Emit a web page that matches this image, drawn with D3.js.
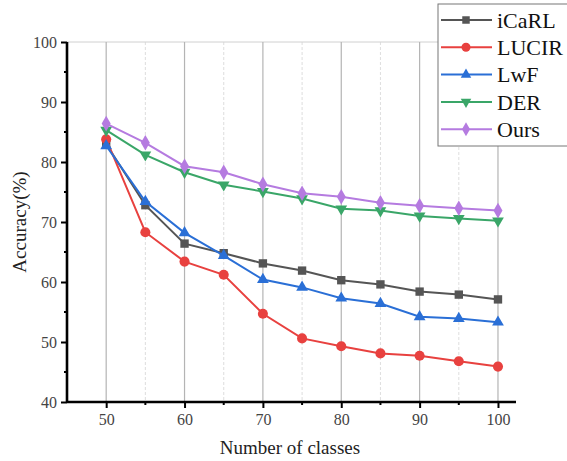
<!DOCTYPE html>
<html>
<head>
<meta charset="utf-8">
<script src="https://cdn.jsdelivr.net/npm/d3@7"></script>
<style>
  body { margin: 0; background: #fff; }
  svg text { font-family: "Liberation Serif", "DejaVu Serif", serif !important; }
</style>
</head>
<body>
<div id="chart"></div>
<script>
// data
const classes = [50, 55, 60, 65, 70, 75, 80, 85, 90, 95, 100];
const icarl = [83.0, 72.8, 66.4, 64.8, 63.1, 61.9, 60.3, 59.6, 58.4, 57.9, 57.1];
const lucir = [83.8, 68.3, 63.4, 61.2, 54.7, 50.6, 49.3, 48.1, 47.7, 46.8, 45.9];
const lwf   = [82.7, 73.4, 68.2, 64.4, 60.4, 59.1, 57.3, 56.4, 54.2, 53.9, 53.3];
const der   = [85.3, 81.2, 78.3, 76.2, 75.1, 73.9, 72.2, 71.9, 71.0, 70.6, 70.2];
const ours  = [86.4, 83.2, 79.3, 78.3, 76.3, 74.8, 74.2, 73.2, 72.7, 72.3, 71.9];
const yTicks = [40, 50, 60, 70, 80, 90, 100];
const xTicks = [50, 60, 70, 80, 90, 100];

const series = [
  {name: 'iCaRL', values: icarl, color: '#555555', symbol: d3.symbolSquare, size: 70, rot: 0},
  {name: 'LUCIR', values: lucir, color: '#e8413f', symbol: d3.symbolCircle, size: 80, rot: 0},
  {name: 'LwF',   values: lwf,   color: '#2a6fd6', symbol: d3.symbolTriangle, size: 60, rot: 0},
  {name: 'DER',   values: der,   color: '#3aa668', symbol: d3.symbolTriangle, size: 60, rot: 180},
  {name: 'Ours',  values: ours,  color: '#b57be0', symbol: d3.symbolDiamond, size: 70, rot: 0}
];

const width = 567, height = 461;
const plotL = 67, plotT = 42, plotR = 516, plotB = 402;

const x = d3.scaleLinear().domain([45, 102.3]).range([plotL, plotR]);
const y = d3.scaleLinear().domain([40, 100]).range([plotB, plotT]);

const svg = d3.select('#chart').append('svg')
    .attr('width', width)
    .attr('height', height);

// top frame line
svg.append('line')
    .attr('x1', plotL).attr('x2', plotR)
    .attr('y1', plotT).attr('y2', plotT)
    .attr('stroke', '#d0d0d0').attr('stroke-width', 1);

// vertical grid: solid at major, dashed at minor
const minorX = d3.range(55, 100, 10);
svg.append('g').selectAll('line')
  .data(xTicks)
  .join('line')
    .attr('x1', d => x(d)).attr('x2', d => x(d))
    .attr('y1', plotT).attr('y2', plotB)
    .attr('stroke', '#b4b4b4').attr('stroke-width', 1.2);

svg.append('g').selectAll('line')
  .data(minorX)
  .join('line')
    .attr('x1', d => x(d)).attr('x2', d => x(d))
    .attr('y1', plotT).attr('y2', plotB)
    .attr('stroke', '#d6d6d6').attr('stroke-width', 0.8)
    .attr('stroke-dasharray', '3,2');

// lines + markers
const line = d3.line()
    .x((d, i) => x(classes[i]))
    .y(d => y(d));

series.forEach(s => {
  svg.append('path')
      .datum(s.values)
      .attr('fill', 'none')
      .attr('stroke', s.color)
      .attr('stroke-width', 2)
      .attr('d', line);
  svg.append('g').selectAll('path')
    .data(s.values)
    .join('path')
      .attr('transform', (d, i) => `translate(${x(classes[i])},${y(d)}) rotate(${s.rot})`)
      .attr('d', d3.symbol().type(s.symbol).size(s.size))
      .attr('fill', s.color);
});

// axes
const xAxis = svg.append('g')
    .attr('transform', `translate(0,${plotB})`)
    .call(d3.axisBottom(x).tickValues(xTicks).tickSize(6).tickPadding(6));
xAxis.append('g').selectAll('line')
  .data(minorX)
  .join('line')
    .attr('x1', d => x(d)).attr('x2', d => x(d))
    .attr('y1', 0).attr('y2', 3)
    .attr('stroke', '#000').attr('stroke-width', 2);

const yAxis = svg.append('g')
    .attr('transform', `translate(${plotL},0)`)
    .call(d3.axisLeft(y).tickValues(yTicks).tickSize(6).tickPadding(4));
yAxis.append('g').selectAll('line')
  .data(d3.range(45, 100, 10))
  .join('line')
    .attr('y1', d => y(d)).attr('y2', d => y(d))
    .attr('x1', 0).attr('x2', -3)
    .attr('stroke', '#000').attr('stroke-width', 2);

[xAxis, yAxis].forEach(a => {
  a.attr('font-family', null);
  a.select('.domain').attr('stroke', '#000').attr('stroke-width', 2.6);
  a.selectAll('.tick line').attr('stroke', '#000').attr('stroke-width', 2);
  a.selectAll('.tick text')
    .attr('font-size', 16)
    .attr('fill', '#444');
});
xAxis.select('.domain').attr('d', `M${plotL},0H${plotR}`);
yAxis.select('.domain').attr('d', `M0,${plotB}V${plotT}`);

// axis titles
svg.append('text')
    .attr('x', 290).attr('y', 454)
    .attr('text-anchor', 'middle')
    .attr('font-size', 19)
    .attr('fill', '#222')
    .text('Number of classes');

svg.append('text')
    .attr('transform', 'translate(26,222) rotate(-90)')
    .attr('text-anchor', 'middle')
    .attr('font-size', 19)
    .attr('fill', '#222')
    .text('Accuracy(%)');

// legend
const legend = svg.append('g');
legend.append('rect')
    .attr('x', 438).attr('y', 4)
    .attr('width', 140).attr('height', 142)
    .attr('fill', '#fff')
    .attr('stroke', '#777').attr('stroke-width', 1);

series.forEach((s, i) => {
  const ly = 20 + i * 27.3;
  legend.append('line')
      .attr('x1', 441).attr('x2', 492)
      .attr('y1', ly).attr('y2', ly)
      .attr('stroke', s.color).attr('stroke-width', 2);
  legend.append('path')
      .attr('transform', `translate(466,${ly}) rotate(${s.rot})`)
      .attr('d', d3.symbol().type(s.symbol).size(s.size * 0.8))
      .attr('fill', s.color);
  legend.append('text')
      .attr('x', 497).attr('y', ly)
      .attr('dy', '0.35em')
      .attr('font-size', 22)
      .attr('fill', '#111')
      .text(s.name);
});
</script>
</body>
</html>
